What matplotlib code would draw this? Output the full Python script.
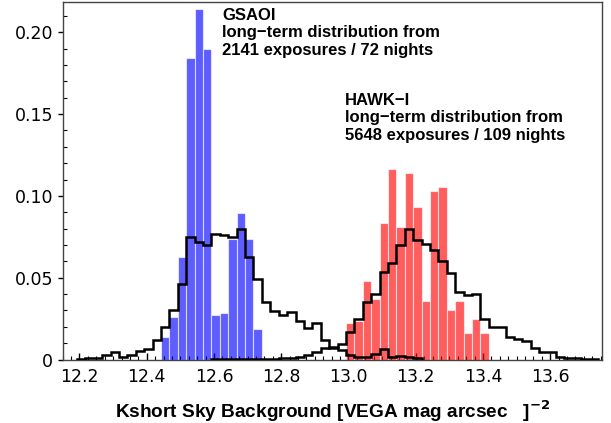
import numpy as np
import matplotlib
matplotlib.use("Agg")
import matplotlib.pyplot as plt
from matplotlib.ticker import MultipleLocator, FixedLocator, FixedFormatter

# ---------------- data ----------------
bin_width = 0.025

# GSAOI nightly distribution (blue), bins starting at 12.4425
gsaoi_start = 12.4425
gsaoi_vals = [0.014, 0.026, 0.0625, 0.184, 0.214, 0.190,
              0.0274, 0.0287, 0.0734, 0.0893, 0.0734, 0.0186]

# HAWK-I nightly distribution (red), bins starting at 12.9925
hawki_start = 12.9925
hawki_vals = [0.0222, 0.0236, 0.0482, 0.037, 0.0833, 0.1167, 0.0807, 0.114,
              0.0933, 0.0358, 0.103, 0.1057, 0.0305, 0.0358, 0.0163, 0.0248,
              0.0163]

# GSAOI long-term distribution (black step), bins starting at 12.1925
gsaoi_lt_start = 12.1925
gsaoi_lt_vals = [0.0004, 0.001, 0.001, 0.003, 0.0045, 0.0015, 0.003, 0.0054,
                 0.0064, 0.0122, 0.020, 0.030, 0.046, 0.075, 0.072, 0.070,
                 0.077, 0.076, 0.075, 0.080, 0.0625, 0.049, 0.035, 0.0295,
                 0.027, 0.029, 0.0237, 0.0192, 0.0223, 0.012, 0.0069, 0.006,
                 0.0028, 0.0018, 0.0018, 0.0035, 0.0065, 0.0018, 0.0022,
                 0.0018, 0.0008]

# HAWK-I long-term distribution (black step), bins starting at 12.5925
hawki_lt_start = 12.5925
hawki_lt_vals = [0.0002, 0.0002, 0.0002, 0.0002, 0.0002, 0.0002, 0.0002,
                 0.0002, 0.001, 0.001, 0.0016, 0.0027, 0.0047, 0.0072,
                 0.0075, 0.0096, 0.0167, 0.0248, 0.035, 0.040, 0.0537,
                 0.0587, 0.070, 0.080, 0.073, 0.0705, 0.0669, 0.0604,
                 0.0528, 0.041, 0.0394, 0.0402, 0.0248, 0.0201, 0.0201,
                 0.014, 0.0126, 0.0112, 0.0069, 0.0045, 0.0045, 0.0018,
                 0.0008, 0.001, 0.0002, 0.0002]

xticks = [12.2, 12.4, 12.6, 12.8, 13.0, 13.2, 13.4, 13.6]
xticklabels = ["12.2", "12.4", "12.6", "12.8", "13.0", "13.2", "13.4", "13.6"]
yticks = [0.0, 0.05, 0.10, 0.15, 0.20]
yticklabels = ["0", "0.05", "0.10", "0.15", "0.20"]

gsaoi_text = "GSAOI\nlong\u2212term distribution from\n2141 exposures / 72 nights"
hawki_text = "HAWK\u2212I\nlong\u2212term distribution from\n5648 exposures / 109 nights"
xlabel = r"Kshort Sky Background [VEGA mag arcsec   ]$^{\mathbf{-2}}$"


def edges_for(start, vals):
    return start + bin_width * np.arange(len(vals) + 1)


# ---------------- plot ----------------
fig = plt.figure(figsize=(6.11, 4.23), dpi=100)
ax = fig.add_axes([0.1026, 0.150, 0.8832, 0.8453])

ge = edges_for(gsaoi_start, gsaoi_vals)
ax.bar(ge[:-1], gsaoi_vals, width=bin_width, align="edge",
       color="blue", alpha=0.63, edgecolor="white", linewidth=0.8, zorder=2)
he = edges_for(hawki_start, hawki_vals)
ax.bar(he[:-1], hawki_vals, width=bin_width, align="edge",
       color="red", alpha=0.63, edgecolor="white", linewidth=0.8, zorder=2)

ax.stairs(gsaoi_lt_vals, edges_for(gsaoi_lt_start, gsaoi_lt_vals),
          color="black", linewidth=1.8, zorder=3)
ax.stairs(hawki_lt_vals, edges_for(hawki_lt_start, hawki_lt_vals),
          color="black", linewidth=1.8, zorder=3)

ax.set_xlim(12.15, 13.755)
ax.set_ylim(0, 0.2185)

ax.xaxis.set_major_locator(FixedLocator(xticks))
ax.xaxis.set_major_formatter(FixedFormatter(xticklabels))
ax.xaxis.set_minor_locator(MultipleLocator(0.025))
ax.yaxis.set_major_locator(FixedLocator(yticks))
ax.yaxis.set_major_formatter(FixedFormatter(yticklabels))
ax.yaxis.set_minor_locator(MultipleLocator(0.01))

ax.tick_params(axis="x", which="major", direction="in", length=5, width=1,
               labelsize=12.5, pad=6, top=False)
ax.tick_params(axis="x", which="minor", direction="in", length=3, width=0.8,
               top=False)
ax.tick_params(axis="y", which="major", direction="out", length=3.5, width=1,
               labelsize=12.5, right=False)
ax.tick_params(axis="y", which="minor", direction="in", length=3, width=0.8,
               right=False)

for s in ax.spines.values():
    s.set_color("#444444")
    s.set_linewidth(1.0)

ax.set_xlabel(xlabel, family="Liberation Sans", fontweight="bold",
              fontsize=13.7, labelpad=9)

ax.text(0.2952, 0.983, gsaoi_text, transform=ax.transAxes, ha="left",
        va="top", family="Liberation Sans", fontweight="bold", fontsize=12,
        linespacing=1.2)
ax.text(0.523, 0.746, hawki_text, transform=ax.transAxes, ha="left",
        va="top", family="Liberation Sans", fontweight="bold", fontsize=12,
        linespacing=1.2)

fig.savefig("out.png", dpi=100)
